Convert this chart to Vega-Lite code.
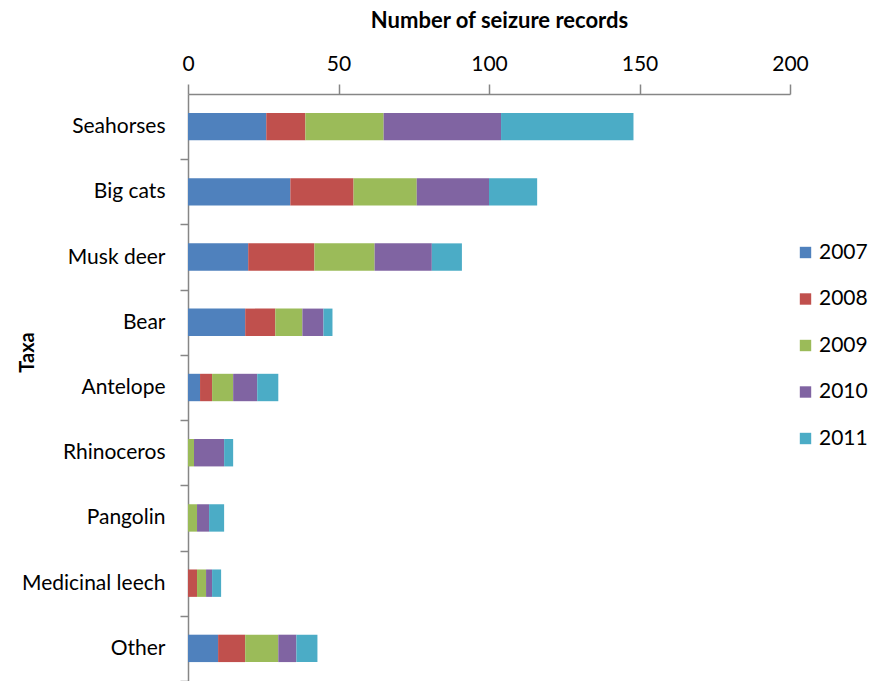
{
  "$schema": "https://vega.github.io/schema/vega-lite/v6.json",
  "width": 602,
  "height": 587,
  "autosize": {"type": "none"},
  "padding": {"left": 188, "top": 94, "right": 93, "bottom": 0},
  "background": "white",
  "config": {
    "view": {"stroke": null},
    "font": "Lato",
    "text": {"font": "Lato"}
  },
  "data": {
    "values": [
      {"taxa": "Seahorses", "year": "2007", "records": 26},
      {"taxa": "Seahorses", "year": "2008", "records": 13},
      {"taxa": "Seahorses", "year": "2009", "records": 26},
      {"taxa": "Seahorses", "year": "2010", "records": 39},
      {"taxa": "Seahorses", "year": "2011", "records": 44},
      {"taxa": "Big cats", "year": "2007", "records": 34},
      {"taxa": "Big cats", "year": "2008", "records": 21},
      {"taxa": "Big cats", "year": "2009", "records": 21},
      {"taxa": "Big cats", "year": "2010", "records": 24},
      {"taxa": "Big cats", "year": "2011", "records": 16},
      {"taxa": "Musk deer", "year": "2007", "records": 20},
      {"taxa": "Musk deer", "year": "2008", "records": 22},
      {"taxa": "Musk deer", "year": "2009", "records": 20},
      {"taxa": "Musk deer", "year": "2010", "records": 19},
      {"taxa": "Musk deer", "year": "2011", "records": 10},
      {"taxa": "Bear", "year": "2007", "records": 19},
      {"taxa": "Bear", "year": "2008", "records": 10},
      {"taxa": "Bear", "year": "2009", "records": 9},
      {"taxa": "Bear", "year": "2010", "records": 7},
      {"taxa": "Bear", "year": "2011", "records": 3},
      {"taxa": "Antelope", "year": "2007", "records": 4},
      {"taxa": "Antelope", "year": "2008", "records": 4},
      {"taxa": "Antelope", "year": "2009", "records": 7},
      {"taxa": "Antelope", "year": "2010", "records": 8},
      {"taxa": "Antelope", "year": "2011", "records": 7},
      {"taxa": "Rhinoceros", "year": "2007", "records": 0},
      {"taxa": "Rhinoceros", "year": "2008", "records": 0},
      {"taxa": "Rhinoceros", "year": "2009", "records": 2},
      {"taxa": "Rhinoceros", "year": "2010", "records": 10},
      {"taxa": "Rhinoceros", "year": "2011", "records": 3},
      {"taxa": "Pangolin", "year": "2007", "records": 0},
      {"taxa": "Pangolin", "year": "2008", "records": 0},
      {"taxa": "Pangolin", "year": "2009", "records": 3},
      {"taxa": "Pangolin", "year": "2010", "records": 4},
      {"taxa": "Pangolin", "year": "2011", "records": 5},
      {"taxa": "Medicinal leech", "year": "2007", "records": 0},
      {"taxa": "Medicinal leech", "year": "2008", "records": 3},
      {"taxa": "Medicinal leech", "year": "2009", "records": 3},
      {"taxa": "Medicinal leech", "year": "2010", "records": 2},
      {"taxa": "Medicinal leech", "year": "2011", "records": 3},
      {"taxa": "Other", "year": "2007", "records": 10},
      {"taxa": "Other", "year": "2008", "records": 9},
      {"taxa": "Other", "year": "2009", "records": 11},
      {"taxa": "Other", "year": "2010", "records": 6},
      {"taxa": "Other", "year": "2011", "records": 7}
    ]
  },
  "mark": {"type": "bar"},
  "encoding": {
    "y": {
      "field": "taxa",
      "type": "nominal",
      "sort": ["Seahorses", "Big cats", "Musk deer", "Bear", "Antelope", "Rhinoceros", "Pangolin", "Medicinal leech", "Other"],
      "scale": {"paddingInner": 0.58, "paddingOuter": 0.29},
      "axis": {
        "title": "Taxa",
        "titleFont": "Lato",
        "titleFontSize": 20,
        "titleFontWeight": "bold",
        "titleColor": "black",
        "titleX": -161,
        "titleY": 258,
        "titleAngle": -90,
        "titleAlign": "center",
        "titleBaseline": "middle",
        "tickOffset": 32.6,
        "labelOffset": -32.6,
        "tickSize": 8,
        "tickColor": "#868686",
        "tickWidth": 1.5,
        "domainColor": "#868686",
        "domainWidth": 1.5,
        "labelFont": "Lato",
        "labelFontSize": 21,
        "labelColor": "black",
        "labelPadding": 15,
        "labelLimit": 300
      }
    },
    "x": {
      "field": "records",
      "type": "quantitative",
      "stack": "zero",
      "scale": {"domain": [0, 200], "nice": false},
      "axis": {
        "orient": "top",
        "title": "Number of seizure records",
        "titleFont": "Lato",
        "titleFontSize": 22,
        "titleFontWeight": "bold",
        "titleColor": "black",
        "titlePadding": 21,
        "titleX": 311,
        "values": [0, 50, 100, 150, 200],
        "labelFlush": false,
        "grid": false,
        "tickSize": 10,
        "tickColor": "#868686",
        "tickWidth": 1.5,
        "domainColor": "#868686",
        "domainWidth": 1.5,
        "labelFont": "Lato",
        "labelFontSize": 21,
        "labelColor": "black",
        "labelPadding": 10
      }
    },
    "color": {
      "field": "year",
      "type": "nominal",
      "scale": {
        "domain": ["2007", "2008", "2009", "2010", "2011"],
        "range": ["#4F81BD", "#C0504D", "#9BBB59", "#8064A2", "#4BACC6"]
      },
      "legend": {
        "title": null,
        "orient": "none",
        "legendX": 607,
        "legendY": 148,
        "symbolType": "square",
        "symbolSize": 130,
        "symbolStrokeWidth": 0,
        "labelFont": "Lato",
        "labelFontSize": 21,
        "labelColor": "black",
        "rowPadding": 24.5,
        "labelOffset": 3
      }
    },
    "order": {"field": "year", "type": "ordinal"}
  }
}
